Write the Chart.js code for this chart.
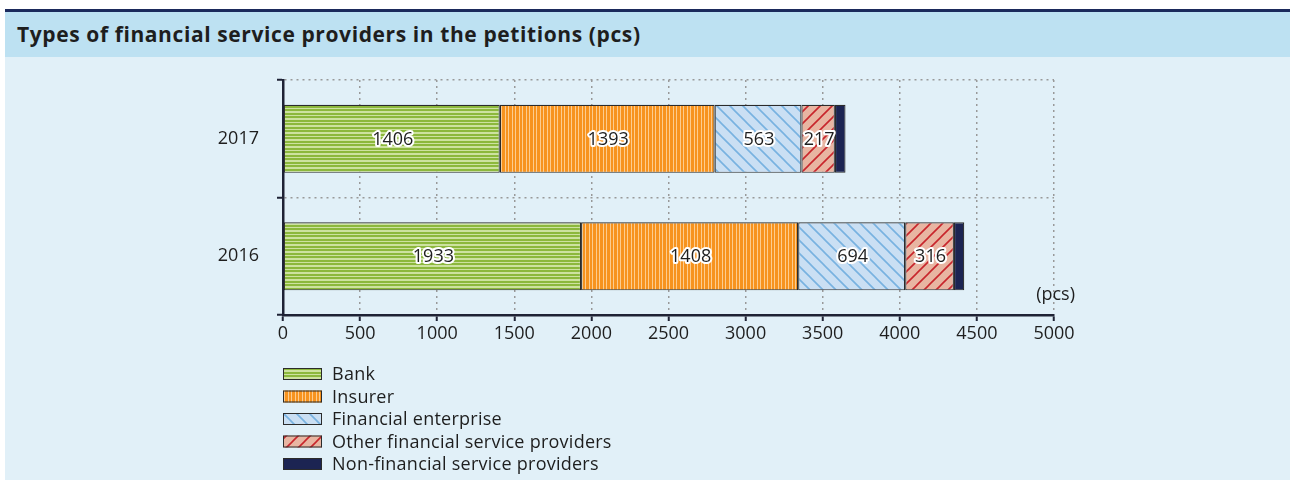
<!DOCTYPE html>
<html>
<head>
<meta charset="utf-8">
<script src="https://cdn.jsdelivr.net/npm/chart.js@4/dist/chart.umd.min.js"></script>
<style>
  html, body { margin: 0; padding: 0; background: #fff; }
  #frame {
    position: absolute; left: 5px; top: 9px; width: 1285px; height: 471px;
    background: #e1f0f8; border-top: 3px solid #1b2a5c;
  }
  #title {
    height: 45px; line-height: 45px; background: #bde1f2;
    font-family: "Open Sans", sans-serif; font-weight: bold; font-size: 21px;
    letter-spacing: 0.6px; color: #1e1e1e; padding-left: 12px;
  }
  #wrap { position: relative; width: 1285px; height: 423px; }
</style>
</head>
<body>
<div id="frame">
  <div id="title">Types of financial service providers in the petitions (pcs)</div>
  <div id="wrap"><canvas id="chart"></canvas></div>
</div>
<script>
// values
const years = ['2017', '2016'];
const seriesNames = ['Bank', 'Insurer', 'Financial enterprise', 'Other financial service providers', 'Non-financial service providers'];
const bank = [1406, 1933];
const insurer = [1393, 1408];
const finEnterprise = [563, 694];
const otherFinancial = [217, 316];
const nonFinancial = [69, 67];
const xMax = 5000;
const xStep = 500;

const FONT = '"Open Sans", sans-serif';
const TEXT = '#1e1e1e';

// small tile patterns for the hatched fills
function makePattern(w, h, draw) {
    const c = document.createElement('canvas');
    c.width = w; c.height = h;
    const g = c.getContext('2d');
    draw(g, w, h);
    return g.createPattern(c, 'repeat');
}

// stripes with a period of ~3.5px
const bankFill = makePattern(1, 7, (g) => {
    g.fillStyle = '#cde2a0'; g.fillRect(0, 0, 1, 7);
    g.fillStyle = '#8cb83c'; g.fillRect(0, 0, 1, 2); g.fillRect(0, 3, 1, 2);
});
const insurerFill = makePattern(7, 1, (g) => {
    g.fillStyle = '#fdcc8e'; g.fillRect(0, 0, 7, 1);
    g.fillStyle = '#f7931e'; g.fillRect(0, 0, 3, 1); g.fillRect(4, 0, 2, 1);
});
const finFill = makePattern(13, 13, (g, w, h) => {
    g.fillStyle = '#cadff3'; g.fillRect(0, 0, w, h);
    g.strokeStyle = '#78b2e0'; g.lineWidth = 1.6;
    g.beginPath();
    g.moveTo(-1, -1); g.lineTo(w + 1, h + 1);
    g.moveTo(-1, h - 1); g.lineTo(1, h + 1);
    g.moveTo(w - 1, -1); g.lineTo(w + 1, 1);
    g.stroke();
});
const otherFill = makePattern(12, 12, (g, w, h) => {
    g.fillStyle = '#e8b5a2'; g.fillRect(0, 0, w, h);
    g.strokeStyle = '#c8262c'; g.lineWidth = 1.6;
    g.beginPath();
    g.moveTo(-1, h + 1); g.lineTo(w + 1, -1);
    g.moveTo(-1, 1); g.lineTo(1, -1);
    g.moveTo(w - 1, h + 1); g.lineTo(w + 1, h - 1);
    g.stroke();
});
const nonFinFill = '#1c2452';

const fills = [bankFill, insurerFill, finFill, otherFill, nonFinFill];
const values = [bank, insurer, finEnterprise, otherFinancial, nonFinancial];

const datasets = seriesNames.map((name, i) => ({
    label: name,
    data: values[i],
    backgroundColor: fills[i],
    borderColor: '#2b2b2b',
    borderWidth: 1.2,
    borderSkipped: false,
    categoryPercentage: 1,
    barPercentage: 0.58,
    showLabel: i < 4
}));

// value labels with a white halo, centred in each segment
const segmentLabels = {
    id: 'segmentLabels',
    afterDatasetsDraw(chart) {
        const ctx = chart.ctx;
        ctx.save();
        ctx.font = '18px ' + FONT;
        ctx.textAlign = 'center';
        ctx.textBaseline = 'middle';
        ctx.lineJoin = 'round';
        chart.data.datasets.forEach((ds, di) => {
            if (!ds.showLabel) return;
            chart.getDatasetMeta(di).data.forEach((bar, j) => {
                const cx = (bar.x + bar.base) / 2 + 1;
                const txt = String(ds.data[j]);
                ctx.strokeStyle = '#fff';
                ctx.lineWidth = 4;
                ctx.strokeText(txt, cx, bar.y + 1);
                ctx.fillStyle = TEXT;
                ctx.fillText(txt, cx, bar.y + 1);
            });
        });
        // unit label
        const a = chart.chartArea;
        ctx.textAlign = 'right';
        ctx.fillStyle = TEXT;
        ctx.fillText('(pcs)', a.right + 21, a.bottom - 20);
        ctx.restore();
    }
};

// vertical legend under the axis
const stackedLegend = {
    id: 'stackedLegend',
    afterDraw(chart) {
        const ctx = chart.ctx;
        const a = chart.chartArea;
        ctx.save();
        ctx.font = '18px ' + FONT;
        ctx.letterSpacing = '0.25px';
        ctx.textBaseline = 'middle';
        chart.data.datasets.forEach((ds, i) => {
            const cy = a.bottom + 59 + i * 22.5;
            const x = a.left;
            ctx.fillStyle = ds.backgroundColor;
            ctx.fillRect(x, cy - 6, 39, 12);
            ctx.strokeStyle = '#2b2b2b';
            ctx.lineWidth = 1;
            ctx.strokeRect(x + 0.5, cy - 5.5, 38, 11);
            ctx.fillStyle = TEXT;
            ctx.fillText(ds.label, x + 49, cy + 1);
        });
        ctx.restore();
    }
};

new Chart(document.getElementById('chart'), {
    type: 'bar',
    data: { labels: years, datasets: datasets },
    options: {
        indexAxis: 'y',
        responsive: true,
        maintainAspectRatio: false,
        animation: false,
        layout: { padding: { top: 23, right: 236, bottom: 135, left: 0 } },
        plugins: {
            legend: { display: false },
            tooltip: { enabled: false }
        },
        scales: {
            x: {
                stacked: true,
                min: 0,
                max: xMax,
                afterFit: (s) => { s.height = 30; s.paddingLeft = 0; s.paddingRight = 0; },
                ticks: {
                    stepSize: xStep,
                    color: TEXT,
                    font: { family: FONT, size: 18 },
                    padding: 2,
                    callback: (v) => String(v)
                },
                grid: {
                    color: '#999',
                    lineWidth: 1.5,
                    tickLength: 6,
                    tickColor: '#1e2235',
                    tickWidth: 2,
                    tickBorderDash: []
                },
                border: { color: '#1e2235', width: 2.5, dash: [2, 4] }
            },
            y: {
                stacked: true,
                afterFit: (s) => { s.width = 278; s.paddingTop = 0; s.paddingBottom = 0; },
                ticks: {
                    color: TEXT,
                    font: { family: FONT, size: 18 },
                    padding: 18
                },
                grid: {
                    offset: true,
                    color: '#999',
                    lineWidth: 1.5,
                    tickLength: 6,
                    tickColor: '#1e2235',
                    tickWidth: 2,
                    tickBorderDash: []
                },
                border: { color: '#1e2235', width: 2.5, dash: [2, 4] }
            }
        }
    },
    plugins: [segmentLabels, stackedLegend]
});
</script>
</body>
</html>
